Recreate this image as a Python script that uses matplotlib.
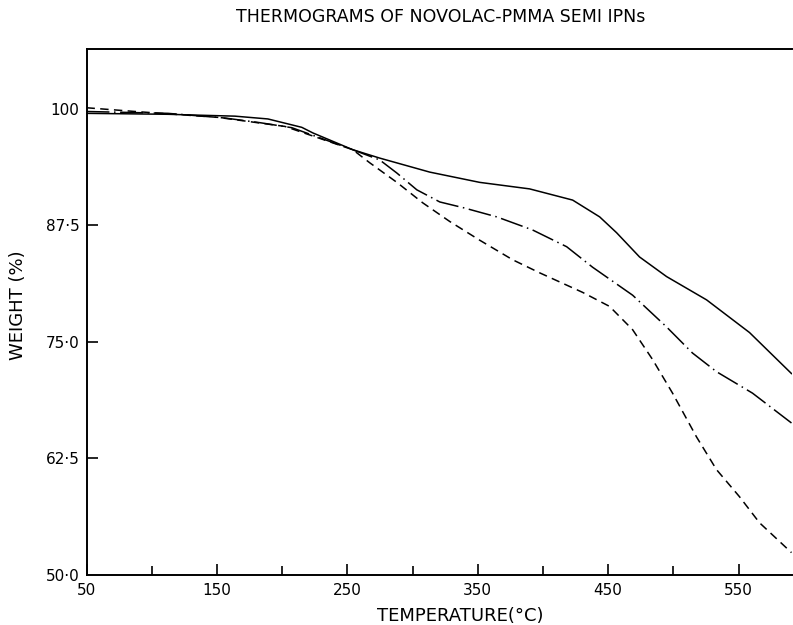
import matplotlib
matplotlib.use("Agg")
import matplotlib.pyplot as plt
from matplotlib.ticker import FixedLocator

# Data
temp_solid = [50, 112.5, 137, 163.8, 189.1, 215.1, 223.6, 254.2, 274.9, 313.2, 351.5,
              389.8, 422.8, 443.5, 456.5, 474.1, 494.8, 525.5, 558.4, 590.6]
weight_solid = [99.5, 99.4, 99.3, 99.2, 98.9, 98.0, 97.4, 95.6, 94.7, 93.2, 92.1,
                91.4, 90.2, 88.4, 86.7, 84.1, 82.0, 79.5, 76.0, 71.6]

temp_dashdot = [50, 112.5, 156.1, 183, 207.5, 254.2, 274.9, 288, 303.3, 320.9, 338.5,
                364.6, 392, 418.2, 438.1, 468.8, 494.8, 514.7, 533.1, 560.7, 590.6]
weight_dashdot = [99.7, 99.5, 99.0, 98.5, 97.96, 95.6, 94.5, 93.1, 91.3, 90.0, 89.4,
                  88.4, 87.0, 85.2, 83.0, 80.0, 76.6, 73.8, 71.8, 69.5, 66.3]

temp_dashed = [50, 87.2, 150.8, 202.1, 254.2, 267.2, 288, 307.9, 328.6, 351.5, 376.8,
               397.5, 430.5, 451.1, 468.8, 484.1, 499.4, 517.8, 533.1, 550.7, 566.1, 590.6]
weight_dashed = [100.1, 99.7, 99.07, 98.1, 95.6, 94.2, 92.1, 89.9, 87.9, 85.9, 83.8,
                 82.4, 80.3, 78.8, 76.3, 73.1, 69.5, 64.8, 61.3, 58.4, 55.6, 52.4]

x_major = [50, 150, 250, 350, 450, 550]
x_minor = [100, 200, 300, 400, 500]
y_ticks = [50.0, 62.5, 75.0, 87.5, 100.0]
y_labels = ["50·0", "62·5", "75·0", "87·5", "100"]

W, H = 793, 625
fig = plt.figure(figsize=(W / 100, H / 100), dpi=100)
ax = fig.add_axes([86.5 / W, 1 - 575 / H, (792 - 86.5) / W, (575 - 49) / H])

lw = 1.1
ax.plot(temp_solid, weight_solid, color="black", lw=lw, linestyle="-")
ax.plot(temp_dashdot, weight_dashdot, color="black", lw=lw, linestyle=(0, (15, 3, 1, 3)))
ax.plot(temp_dashed, weight_dashed, color="black", lw=lw, linestyle=(0, (5.5, 3.5)))

ax.set_xlim(50, 591)
ax.set_ylim(50, 106.4)

ax.spines["right"].set_visible(False)
for s in ["left", "bottom", "top"]:
    ax.spines[s].set_linewidth(1.4)

ax.xaxis.set_major_locator(FixedLocator(x_major))
ax.xaxis.set_minor_locator(FixedLocator(x_minor))
ax.set_xticklabels([str(v) for v in x_major])
ax.tick_params(axis="x", which="major", direction="in", length=8, width=1.2, pad=6,
               labelsize=11, top=False)
ax.tick_params(axis="x", which="minor", direction="in", length=6.5, width=1.2, top=False)

ax.yaxis.set_major_locator(FixedLocator(y_ticks))
ax.set_yticklabels(y_labels)
ax.tick_params(axis="y", which="major", direction="in", length=8, width=1.2, pad=5,
               labelsize=11, right=False)
# no visible tick marks at 50.0 and 100 in the reference
yt = ax.yaxis.get_major_ticks()
yt[0].tick1line.set_visible(False)
yt[-1].tick1line.set_visible(False)

fig.text(441 / W, 1 - 17 / H, "THERMOGRAMS OF NOVOLAC-PMMA SEMI IPNs",
         ha="center", va="center", fontsize=12.5)
fig.text(460 / W, 1 - 616 / H, "TEMPERATURE(°C)", ha="center", va="center", fontsize=13)
fig.text(18 / W, 1 - 305 / H, "WEIGHT (%)", ha="center", va="center", rotation=90,
         fontsize=13)

fig.savefig("out.png", dpi=100)
